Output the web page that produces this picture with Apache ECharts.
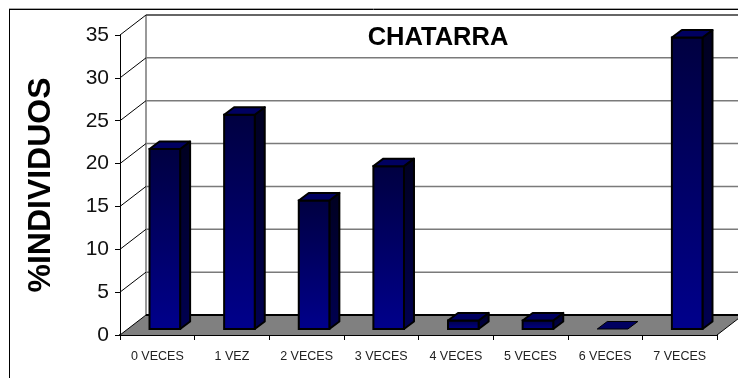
<!DOCTYPE html>
<html><head><meta charset="utf-8">
<style>html,body{margin:0;padding:0;background:#fff}#c{width:738px;height:378px}</style>
<script src="https://cdn.jsdelivr.net/npm/echarts@6/dist/echarts.min.js"></script>
</head><body><div id="c"></div>
<script>
const categories = ['0 VECES','1 VEZ','2 VECES','3 VECES','4 VECES','5 VECES','6 VECES','7 VECES'];
const percentages = [21,25,15,19,1,1,0,34];
const gridValues = [5,10,15,20,25,30,35];
const FONT = '"Liberation Sans", Arial, sans-serif';
// depth of the 3D box (pixels)
const WALL_DX = 26, WALL_DY = -20;
const BAR_OFF_X = 7.5, BAR_OFF_Y = -6, BAR_DX = 10, BAR_DY = -7.5, BAR_RATIO = 0.41;

const chart = echarts.init(document.getElementById('c'), null, {renderer:'canvas'});

function poly(points, style){ return {type:'polygon', shape:{points}, style}; }

chart.setOption({
  animation:false,
  backgroundColor:'#fff',
  title:{text:'CHATARRA', left:433, top:20, textAlign:'center',
    textStyle:{fontFamily:FONT,fontSize:25.5,fontWeight:'bold',color:'#000'}},
  graphic:[
    {type:'line',silent:true,z:-10,shape:{x1:9,y1:8.5,x2:738,y2:8.5},style:{stroke:'#a8a8a8',lineWidth:1}},
    {type:'line',silent:true,z:-10,shape:{x1:9,y1:9.5,x2:738,y2:9.5},style:{stroke:'#000',lineWidth:1}},
    {type:'line',silent:true,z:-10,shape:{x1:9.5,y1:9,x2:9.5,y2:378},style:{stroke:'#000',lineWidth:1}}
  ],
  grid:{left:120,right:21,top:35,bottom:43},
  xAxis:{type:'category',data:categories,boundaryGap:true,
    axisLine:{show:true,onZero:false,lineStyle:{color:'#000',width:2}},
    axisTick:{show:true,length:5,alignWithLabel:false,lineStyle:{color:'#000',width:1}},
    axisLabel:{interval:0,margin:15,fontFamily:FONT,fontSize:12.5,color:'#222'},
    splitLine:{show:false}},
  yAxis:{type:'value',min:0,max:35,interval:5,
    name:'%INDIVIDUOS',nameLocation:'middle',nameGap:59,nameRotate:90,
    nameTextStyle:{fontFamily:FONT,fontSize:32,fontWeight:'bold',color:'#000',padding:[0,0,4,0]},
    axisLine:{show:true,lineStyle:{color:'#000',width:1}},
    axisTick:{show:true,length:5,lineStyle:{color:'#000',width:1}},
    axisLabel:{margin:11,fontFamily:FONT,fontSize:21,color:'#111'},
    splitLine:{show:false}},
  series:[
    { // back wall edge and floor
      type:'custom',silent:true,z:1,clip:false,data:[0],
      renderItem:(p,api)=>{
        const a=api.coord([0,0]), t=api.coord([0,35]), s=p.coordSys, r=s.x+s.width;
        return {type:'group',children:[
          {type:'line',shape:{x1:s.x+WALL_DX,y1:t[1]+WALL_DY,x2:s.x+WALL_DX,y2:a[1]+WALL_DY},style:{stroke:'#777',lineWidth:1.5}},
          poly([[s.x,a[1]],[r,a[1]],[r+WALL_DX,a[1]+WALL_DY],[s.x+WALL_DX,a[1]+WALL_DY]],{fill:'#808080'}),
          {type:'line',shape:{x1:s.x+WALL_DX,y1:a[1]+WALL_DY,x2:r+WALL_DX,y2:a[1]+WALL_DY},style:{stroke:'#000',lineWidth:2}},
          {type:'line',shape:{x1:s.x,y1:a[1],x2:s.x+WALL_DX,y2:a[1]+WALL_DY},style:{stroke:'#000',lineWidth:1}},
          {type:'line',shape:{x1:r,y1:a[1],x2:r+WALL_DX,y2:a[1]+WALL_DY},style:{stroke:'#000',lineWidth:1}}
        ]};
      }
    },
    { // gridlines on the walls
      type:'custom',silent:true,z:2,clip:false,data:gridValues,
      encode:{y:0},
      renderItem:(p,api)=>{
        const s=p.coordSys, c=api.coord([0,api.value(0)]), y=c[1], top=api.value(0)===35;
        return {type:'group',children:[
          {type:'line',shape:{x1:s.x,y1:y,x2:s.x+WALL_DX,y2:y+WALL_DY},style:{stroke:'#000',lineWidth:1}},
          {type:'line',shape:{x1:s.x+WALL_DX,y1:y+WALL_DY,x2:s.x+s.width+WALL_DX,y2:y+WALL_DY},
            style:{stroke:top?'#333':'#7a7a7a',lineWidth:1.5}}
        ]};
      }
    },
    { // 3D bars
      type:'custom',z:3,clip:false,
      data:percentages.map((v,i)=>[i,v]),
      encode:{x:0,y:1},
      renderItem:(p,api)=>{
        const i=api.value(0), v=api.value(1);
        const top=api.coord([i,v]), base=api.coord([i,0]);
        const w=api.size([1,0])[0]*BAR_RATIO;
        const x0=base[0]+BAR_OFF_X-w/2, x1=x0+w;
        const yb=base[1]+BAR_OFF_Y, yt=top[1]+BAR_OFF_Y;
        const edge='#000';
        const grad=(a,b)=>new echarts.graphic.LinearGradient(0,0,0,1,[{offset:0,color:a},{offset:1,color:b}]);
        const kids=[];
        if(v>0){
          kids.push(poly([[x1,yt],[x1+BAR_DX,yt+BAR_DY],[x1+BAR_DX,yb+BAR_DY],[x1,yb]],
            {fill:grad('#000020','#000050'),stroke:edge,lineWidth:2,lineJoin:'round'}));
          kids.push({type:'rect',shape:{x:x0,y:yt,width:w,height:yb-yt},
            style:{fill:grad('#000040','#00008c'),stroke:edge,lineWidth:2}});
        }
        kids.push(poly([[x0,yt],[x0+BAR_DX,yt+BAR_DY],[x1+BAR_DX,yt+BAR_DY],[x1,yt]],
          {fill:'#000060',stroke:edge,lineWidth:v>0?2:1,lineJoin:'round'}));
        return {type:'group',children:kids};
      }
    }
  ]
});
</script></body></html>
